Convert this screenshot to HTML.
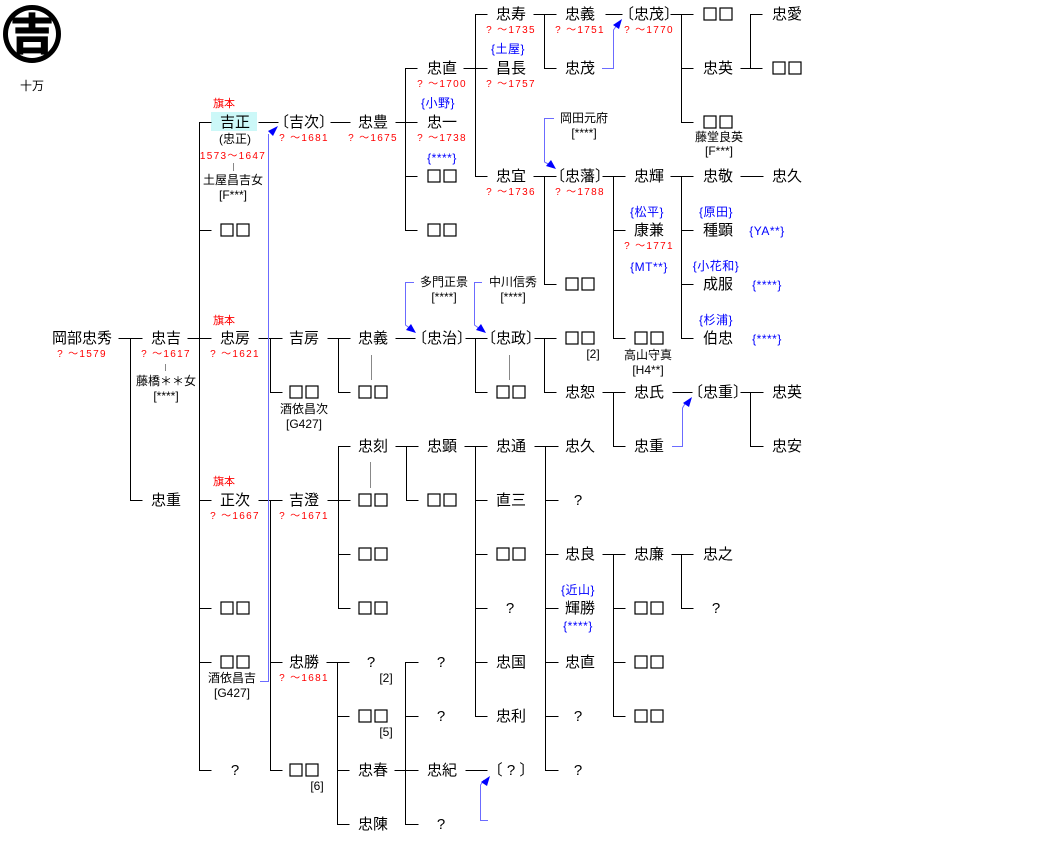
<!DOCTYPE html>
<html><head><meta charset="utf-8"><style>
html,body{margin:0;padding:0;background:#fff;}
svg{display:block;}
text{font-family:"Liberation Sans","Noto Sans CJK JP",sans-serif;text-anchor:middle;}
.n{font-size:15px;fill:#000;}
.q{font-size:15px;fill:#000;opacity:0;}
.d{font-size:10px;fill:#f00;letter-spacing:1.3px;}
.b{font-size:12px;fill:#00f;letter-spacing:0.5px;}
.s{font-size:12px;fill:#000;}
.r{font-size:11px;fill:#f00;}
</style></head><body>
<svg width="1040" height="842" viewBox="0 0 1040 842" xmlns="http://www.w3.org/2000/svg">
<defs>
<g id="bx" fill="none" stroke="#000" stroke-width="1.2">
<rect x="-14" y="-6" width="12" height="12"/>
<rect x="2" y="-6" width="12" height="12"/>
</g>
</defs>
<!-- crest -->
<circle cx="32" cy="34" r="29" fill="#000"/>
<circle cx="32" cy="34" r="24" fill="#fff"/>
<text x="32" y="50" style="font-family:'Noto Sans CJK JP',sans-serif;font-size:44px;font-weight:900;fill:#000">吉</text>
<text x="32" y="90" class="n" style="font-size:12px">十万</text>

<!-- highlight -->
<rect x="211" y="112" width="46" height="19" fill="#ccf8f8"/>

<!-- black connectors -->
<path fill="none" stroke="#000" stroke-width="1" d="
M118.5 338.5H142.5M130.5 338.5V500.5H142.5
M187.5 338.5H211.5M211.5 122.5H199.5V770.5H211.5M199.5 230.5H211.5M199.5 500.5H211.5M199.5 608.5H211.5M199.5 662.5H211.5
M258.5 122.5H278.5
M330.5 122.5H350.5
M395.5 122.5H417.5M417.5 68.5H405.5V230.5H417.5M405.5 176.5H417.5
M463.5 68.5H487.5M487.5 14.5H475.5V176.5H487.5
M533.5 14.5H556.5M556.5 68.5H544.5V14.5
M605.5 14.5H622.5
M670.5 14.5H693.5M693.5 122.5H681.5V14.5M681.5 68.5H693.5
M740.5 68.5H762.5M762.5 14.5H750.5V68.5
M533.5 176.5H556.5M544.5 176.5V284.5H556.5
M602.5 176.5H625.5M613.5 176.5V338.5H625.5M613.5 230.5H625.5
M670.5 176.5H693.5M681.5 176.5V338.5H693.5M681.5 230.5H693.5M681.5 284.5H693.5
M740.5 176.5H763.5
M258.5 338.5H282.5M270.5 338.5V392.5H282.5
M327.5 338.5H350.5M338.5 338.5V392.5H350.5
M395.5 338.5H415.5
M465.5 338.5H487.5M475.5 338.5V392.5H487.5
M534.5 338.5H556.5M544.5 338.5V392.5H556.5
M602.5 392.5H625.5M613.5 392.5V446.5H625.5
M672.5 392.5H692.5
M740.5 392.5H763.5M750.5 392.5V446.5H763.5
M258.5 500.5H282.5M270.5 500.5V770.5H282.5M270.5 662.5H282.5
M327.5 500.5H350.5M350.5 446.5H338.5V608.5H350.5M338.5 554.5H350.5
M395.5 446.5H418.5M406.5 446.5V500.5H418.5
M464.5 446.5H487.5M475.5 446.5V716.5H487.5M475.5 500.5H487.5M475.5 554.5H487.5M475.5 608.5H487.5M475.5 662.5H487.5
M534.5 446.5H558.5M545.5 446.5V770.5H558.5M545.5 500.5H558.5M545.5 554.5H558.5M545.5 608.5H558.5M545.5 662.5H558.5M545.5 716.5H558.5
M602.5 554.5H625.5M613.5 554.5V716.5H625.5M613.5 608.5H625.5M613.5 662.5H625.5
M671.5 554.5H693.5M681.5 554.5V608.5H693.5
M326.5 662.5H349.5M337.5 662.5V824.5H349.5M337.5 716.5H349.5M337.5 770.5H349.5
M394.5 770.5H418.5M418.5 662.5H405.5V824.5H418.5M405.5 716.5H418.5
M465.5 770.5H487.5
"/>
<!-- gray spouse lines -->
<path fill="none" stroke="#888" stroke-width="1" d="M233.5 163V171M165.5 364V371M371.5 355V380M509.5 355V380M370.5 462V488"/>

<!-- blue adoption lines -->
<g fill="none" stroke="#6b6bff" stroke-width="1">
<path d="M260 681.5H268.5V134"/>
<path d="M414 282.5H405.5V325L411 329"/>
<path d="M482 282.5H474.5V325L480 329"/>
<path d="M554 118.5H544.5V162L550 165"/>
<path d="M602 68.5H613.5V30L617 25"/>
<path d="M672 446.5H682.5V408L686 402"/>
<path d="M488 820.5H480.5V785L484 780"/>
</g>
<g fill="#0000ff">
<polygon points="278,126 268,131 273,136"/>
<polygon points="416,333 406,330 411,324"/>
<polygon points="486,333 476,330 481,324"/>
<polygon points="556,169 546,166 551,160"/>
<polygon points="622,19 613,25 619,29"/>
<polygon points="692,397 683,403 689,407"/>
<polygon points="490,776 481,782 487,786"/>
</g>

<!-- red 旗本 -->
<text x="224" y="107" class="r">旗本</text>
<text x="224" y="324" class="r">旗本</text>
<text x="224" y="485" class="r">旗本</text>

<!-- names -->
<g class="n">
<text x="82" y="343">岡部忠秀</text>
<text x="166" y="343">忠吉</text>
<text x="166" y="505">忠重</text>
<text x="235" y="127">吉正</text>
<text x="235" y="343">忠房</text>
<text x="235" y="505">正次</text>
<text x="235" y="775">?</text>
<text x="304" y="127">〔吉次〕</text>
<text x="304" y="343">吉房</text>
<text x="304" y="505">吉澄</text>
<text x="304" y="667">忠勝</text>
<text x="373" y="127">忠豊</text>
<text x="373" y="343">忠義</text>
<text x="373" y="451">忠刻</text>
<text x="371" y="667">?</text>
<text x="373" y="775">忠春</text>
<text x="373" y="829">忠陳</text>
<text x="442" y="73">忠直</text>
<text x="442" y="127">忠一</text>
<text x="442" y="343">〔忠治〕</text>
<text x="442" y="451">忠顕</text>
<text x="441" y="667">?</text>
<text x="441" y="721">?</text>
<text x="442" y="775">忠紀</text>
<text x="441" y="829">?</text>
<text x="511" y="19">忠寿</text>
<text x="511" y="73">昌長</text>
<text x="511" y="181">忠宜</text>
<text x="511" y="343">〔忠政〕</text>
<text x="511" y="451">忠通</text>
<text x="511" y="505">直三</text>
<text x="510" y="613">?</text>
<text x="511" y="667">忠国</text>
<text x="511" y="721">忠利</text>
<text x="511" y="775">〔 ? 〕</text>
<text x="580" y="19">忠義</text>
<text x="580" y="73">忠茂</text>
<text x="580" y="181">〔忠藩〕</text>
<text x="580" y="397">忠恕</text>
<text x="580" y="451">忠久</text>
<text x="578" y="505">?</text>
<text x="580" y="559">忠良</text>
<text x="580" y="613">輝勝</text>
<text x="580" y="667">忠直</text>
<text x="578" y="721">?</text>
<text x="578" y="775">?</text>
<text x="649" y="19">〔忠茂〕</text>
<text x="649" y="181">忠輝</text>
<text x="649" y="235">康兼</text>
<text x="649" y="397">忠氏</text>
<text x="649" y="451">忠重</text>
<text x="649" y="559">忠廉</text>
<text x="718" y="73">忠英</text>
<text x="718" y="181">忠敬</text>
<text x="718" y="235">種顕</text>
<text x="718" y="289">成服</text>
<text x="718" y="343">伯忠</text>
<text x="718" y="397">〔忠重〕</text>
<text x="718" y="559">忠之</text>
<text x="716" y="613">?</text>
<text x="787" y="19">忠愛</text>
<text x="787" y="181">忠久</text>
<text x="787" y="397">忠英</text>
<text x="787" y="451">忠安</text>
</g>
<!-- boxes -->
<use href="#bx" x="235" y="230"/>
<use href="#bx" x="235" y="608"/>
<use href="#bx" x="235" y="662"/>
<use href="#bx" x="304" y="392"/>
<use href="#bx" x="304" y="770"/>
<use href="#bx" x="373" y="392"/>
<use href="#bx" x="373" y="500"/>
<use href="#bx" x="373" y="554"/>
<use href="#bx" x="373" y="608"/>
<use href="#bx" x="373" y="716"/>
<use href="#bx" x="442" y="176"/>
<use href="#bx" x="442" y="230"/>
<use href="#bx" x="442" y="500"/>
<use href="#bx" x="511" y="392"/>
<use href="#bx" x="511" y="554"/>
<use href="#bx" x="580" y="284"/>
<use href="#bx" x="580" y="338"/>
<use href="#bx" x="649" y="338"/>
<use href="#bx" x="649" y="608"/>
<use href="#bx" x="649" y="662"/>
<use href="#bx" x="649" y="716"/>
<use href="#bx" x="718" y="14"/>
<use href="#bx" x="718" y="122"/>
<use href="#bx" x="787" y="68"/>
<g class="q">
<text x="235" y="235">□□</text>
<text x="235" y="613">□□</text>
<text x="235" y="667">□□</text>
<text x="304" y="397">□□</text>
<text x="304" y="775">□□</text>
<text x="373" y="397">□□</text>
<text x="373" y="505">□□</text>
<text x="373" y="559">□□</text>
<text x="373" y="613">□□</text>
<text x="373" y="721">□□</text>
<text x="442" y="181">□□</text>
<text x="442" y="235">□□</text>
<text x="442" y="505">□□</text>
<text x="511" y="397">□□</text>
<text x="511" y="559">□□</text>
<text x="580" y="289">□□</text>
<text x="580" y="343">□□</text>
<text x="649" y="343">□□</text>
<text x="649" y="613">□□</text>
<text x="649" y="667">□□</text>
<text x="649" y="721">□□</text>
<text x="718" y="19">□□</text>
<text x="718" y="127">□□</text>
<text x="787" y="73">□□</text>
</g>

<!-- dates -->
<g class="d">
<text x="82" y="357">? ～1579</text>
<text x="166" y="357">? ～1617</text>
<text x="235" y="357">? ～1621</text>
<text x="235" y="519">? ～1667</text>
<text x="233" y="159">1573～1647</text>
<text x="304" y="141">? ～1681</text>
<text x="373" y="141">? ～1675</text>
<text x="442" y="87">? ～1700</text>
<text x="442" y="141">? ～1738</text>
<text x="511" y="33">? ～1735</text>
<text x="511" y="87">? ～1757</text>
<text x="511" y="195">? ～1736</text>
<text x="580" y="33">? ～1751</text>
<text x="580" y="195">? ～1788</text>
<text x="649" y="33">? ～1770</text>
<text x="649" y="249">? ～1771</text>
<text x="304" y="519">? ～1671</text>
<text x="304" y="681">? ～1681</text>
</g>

<!-- blue family labels -->
<g class="b">
<text x="508" y="53">{土屋}</text>
<text x="438" y="107">{小野}</text>
<text x="442" y="162">{****}</text>
<text x="647" y="216">{松平}</text>
<text x="649" y="271">{MT**}</text>
<text x="716" y="216">{原田}</text>
<text x="767" y="235">{YA**}</text>
<text x="716" y="270">{小花和}</text>
<text x="767" y="289">{****}</text>
<text x="716" y="324">{杉浦}</text>
<text x="767" y="343">{****}</text>
<text x="578" y="594">{近山}</text>
<text x="578" y="630">{****}</text>
</g>

<!-- sub labels -->
<g class="s">
<text x="235" y="143">(忠正)</text>
<text x="233" y="184">土屋昌吉女</text>
<text x="233" y="199">[F***]</text>
<text x="166" y="385">藤橋＊＊女</text>
<text x="166" y="400">[****]</text>
<text x="304" y="413">酒依昌次</text>
<text x="304" y="428">[G427]</text>
<text x="232" y="682">酒依昌吉</text>
<text x="232" y="697">[G427]</text>
<text x="444" y="286">多門正景</text>
<text x="444" y="301">[****]</text>
<text x="513" y="286">中川信秀</text>
<text x="513" y="301">[****]</text>
<text x="584" y="122">岡田元府</text>
<text x="584" y="137">[****]</text>
<text x="719" y="141">藤堂良英</text>
<text x="719" y="155">[F***]</text>
<text x="648" y="359">高山守真</text>
<text x="648" y="374">[H4**]</text>
<text x="593" y="358">[2]</text>
<text x="386" y="682">[2]</text>
<text x="386" y="736">[5]</text>
<text x="317" y="790">[6]</text>
</g>
</svg>
</body></html>
